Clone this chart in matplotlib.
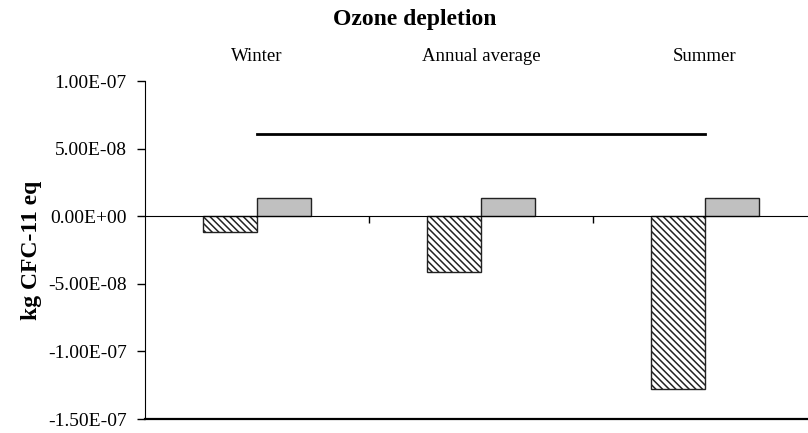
import numpy as np
import matplotlib.pyplot as plt

# Categories and values
categories = ['Winter', 'Annual average', 'Summer']
hatched_vals = [-1.17e-08, -4.1e-08, -1.28e-07]
grey_vals = [1.35e-08, 1.38e-08, 1.37e-08]
line_vals = [6.05e-08, 6.05e-08, 6.05e-08]
y_ticks = [-1.5e-07, -1.0e-07, -5.0e-08, 0.0, 5.0e-08, 1.0e-07]

plt.rcParams['font.family'] = ['Liberation Serif', 'DejaVu Serif']
plt.rcParams['hatch.linewidth'] = 1.1
plt.rcParams['hatch.color'] = '#444444'

fig = plt.figure(figsize=(8.08, 4.33), dpi=100)
ax = fig.add_axes([145/808, 14/433, 663/808, 338/433])

x = np.arange(len(categories))
w = 0.24
ax.bar(x - w/2, hatched_vals, w, color='white', edgecolor='#222222',
       hatch='\\\\\\\\\\', linewidth=1.0, zorder=2)
ax.bar(x + w/2, grey_vals, w, color='#c0c0c0', edgecolor='#222222',
       linewidth=1.0, zorder=2)
ax.plot(x, line_vals, color='black', linewidth=2.0, zorder=3)

ax.set_xlim(-0.5, -0.5 + 663/224)
ax.set_ylim(-1.5e-07, 1.0e-07)
ax.set_yticks(y_ticks)
ax.set_yticklabels(['%.2E' % v if v != 0 else '0.00E+00' for v in y_ticks])
ax.tick_params(axis='y', direction='out', length=6, width=1, labelsize=14, pad=7)

# x axis at zero, category labels on top
ax.spines['bottom'].set_position(('data', 0))
ax.spines['top'].set_visible(False)
ax.spines['right'].set_visible(False)
ax.set_xticks(x)
ax.set_xticklabels(categories)
ax.set_xticks(x[:-1] + 0.5, minor=True)
ax.tick_params(axis='x', which='major', bottom=False, top=False,
               labelbottom=False, labeltop=True, labelsize=13.5, pad=8)
ax.tick_params(axis='x', which='minor', bottom=True, top=False,
               direction='out', length=5, width=1)
ax.axhline(-1.5e-07, color='black', linewidth=1.6, clip_on=False)

ax.set_ylabel('kg CFC-11 eq', fontsize=17, fontweight='bold')
ax.yaxis.set_label_coords(-(145 - 42)/663, 0.5)
fig.text(415/808, 1 - 20/433, 'Ozone depletion', ha='center', va='center',
         fontsize=17, fontweight='bold')

fig.savefig('out.png', dpi=100)
